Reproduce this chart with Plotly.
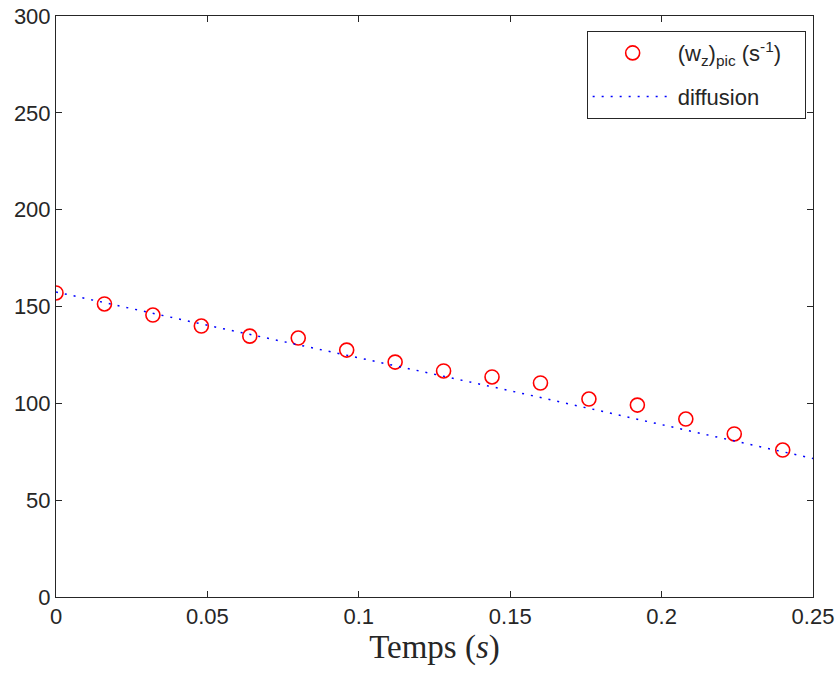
import plotly.graph_objects as go

# Data
t_pic = [0.0, 0.016, 0.032, 0.048, 0.064, 0.080, 0.096, 0.112, 0.128, 0.144,
         0.160, 0.176, 0.192, 0.208, 0.224, 0.240]
w_pic = [157.0, 151.3, 145.6, 139.9, 134.7, 133.7, 127.5, 121.3, 116.7, 113.6,
         110.5, 102.2, 99.1, 91.9, 84.2, 75.9]
t_diff = [0.0, 0.05, 0.10, 0.15, 0.20, 0.25]
w_diff = [157.5, 140.3, 123.5, 106.5, 89.0, 71.5]

x_ticks = [0, 0.05, 0.1, 0.15, 0.2, 0.25]
x_ticklabels = ["0", "0.05", "0.1", "0.15", "0.2", "0.25"]
y_ticks = [0, 50, 100, 150, 200, 250, 300]

TICKFONT = "Liberation Sans Narrow, Arial Narrow, Liberation Sans, Arial"

fig = go.Figure()
fig.add_trace(go.Scatter(
    x=t_pic, y=w_pic, mode="markers", legendgroup="a",
    name="(w<sub>z</sub>)<sub>pic</sub> (s<sup>-1</sup>)&nbsp;&nbsp;&nbsp;",
    marker=dict(symbol="circle-open", size=14, color="#ff0000",
                line=dict(width=1.6, color="#ff0000")),
))
fig.add_trace(go.Scatter(
    x=t_diff, y=w_diff, mode="lines", name="diffusion", legendgroup="b",
    line=dict(color="#0000ff", width=1.5, dash="2px,7px"),
))

axis_common = dict(
    showgrid=False, zeroline=False, showline=True, linecolor="#262626",
    linewidth=1, mirror="allticks", ticks="inside", ticklen=6,
    tickcolor="#262626", automargin=False,
    tickfont=dict(family=TICKFONT, size=22, color="#262626"),
)

fig.update_layout(
    width=837, height=674,
    margin=dict(l=56, r=24, t=16, b=77),
    paper_bgcolor="white", plot_bgcolor="white",
    xaxis=dict(range=[0, 0.25], tickvals=x_ticks, ticktext=x_ticklabels,
               title=dict(text="Temps (<i>s</i>)",
                          font=dict(family="Liberation Serif, Times New Roman", size=33, color="#262626"),
                          standoff=1),
               **axis_common),
    yaxis=dict(range=[0, 300], tickvals=y_ticks, **axis_common),
    legend=dict(x=0.701, y=0.974, xanchor="left", yanchor="top",
                bgcolor="white", bordercolor="#262626", borderwidth=1,
                font=dict(family=TICKFONT, size=22, color="#262626"),
                itemwidth=80, traceorder="grouped", tracegroupgap=12),
    showlegend=True,
)

fig.write_html("out.html", config={"displayModeBar": False},
               post_script="document.body.style.margin='0px';")
